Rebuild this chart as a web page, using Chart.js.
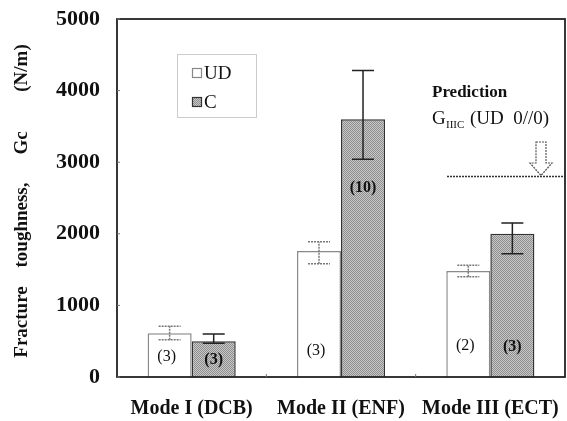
<!DOCTYPE html>
<html>
<head>
<meta charset="utf-8">
<script src="https://cdn.jsdelivr.net/npm/chart.js@4.4.1/dist/chart.umd.min.js"></script>
<style>
  html, body { margin: 0; padding: 0; background: #fff; }
  canvas { display: block; }
</style>
</head>
<body>
<canvas id="gc" width="567" height="421"></canvas>
<script>
// fracture toughness per test mode
const modes = ['Mode I (DCB)', 'Mode II (ENF)', 'Mode III (ECT)'];
const udMean = [610, 1760, 1480];
const udLow = [520, 1580, 1400];
const udHigh = [710, 1890, 1560];
const cMean = [500, 3600, 2000];
const cLow = [470, 3040, 1720];
const cHigh = [600, 4280, 2150];
const udCount = [3, 3, 2];
const cCount = [3, 10, 3];
const yTicks = [0, 1000, 2000, 3000, 4000, 5000];
const predictionGIIIC = 2800;

const serif = '"Liberation Serif", "DejaVu Serif", serif';

// stippled gray fill like a dithered print
function stipple() {
  const c = document.createElement('canvas');
  c.width = 2; c.height = 2;
  const g = c.getContext('2d');
  g.fillStyle = '#c8c8c8'; g.fillRect(0, 0, 2, 2);
  g.fillStyle = '#8e8e8e'; g.fillRect(0, 0, 1, 1); g.fillRect(1, 1, 1, 1);
  return g.createPattern(c, 'repeat');
}

const extras = {
  id: 'extras',
  afterDatasetsDraw(chart) {
    const ctx = chart.ctx;
    const x = chart.scales.x;
    const y = chart.scales.y;
    const area = chart.chartArea;

    // error bars
    const errs = [
      { meta: chart.getDatasetMeta(0), lo: udLow, hi: udHigh, color: '#777', dash: [2, 1] },
      { meta: chart.getDatasetMeta(1), lo: cLow, hi: cHigh, color: '#222', dash: [] }
    ];
    errs.forEach(e => {
      e.meta.data.forEach((bar, i) => {
        const bx = bar.x, y1 = y.getPixelForValue(e.lo[i]), y2 = y.getPixelForValue(e.hi[i]);
        ctx.save();
        ctx.strokeStyle = e.color;
        ctx.lineWidth = 1.5;
        ctx.setLineDash(e.dash);
        ctx.beginPath();
        ctx.moveTo(bx, y1); ctx.lineTo(bx, y2);
        ctx.moveTo(bx - 11, y1); ctx.lineTo(bx + 11, y1);
        ctx.moveTo(bx - 11, y2); ctx.lineTo(bx + 11, y2);
        ctx.stroke();
        ctx.restore();
      });
    });

    // sample counts inside the bars
    const udAt = [280, 360, 430];
    const cAt = [240, 2640, 420];
    ctx.save();
    ctx.fillStyle = '#111';
    ctx.textAlign = 'center';
    ctx.textBaseline = 'middle';
    chart.getDatasetMeta(0).data.forEach((bar, i) => {
      ctx.font = '16px ' + serif;
      ctx.fillText('(' + udCount[i] + ')', bar.x - 3, y.getPixelForValue(udAt[i]));
    });
    chart.getDatasetMeta(1).data.forEach((bar, i) => {
      ctx.font = 'bold 16px ' + serif;
      ctx.fillText('(' + cCount[i] + ')', bar.x, y.getPixelForValue(cAt[i]));
    });
    ctx.restore();

    // predicted mode III value
    const py = y.getPixelForValue(predictionGIIIC);
    ctx.save();
    ctx.strokeStyle = '#333';
    ctx.lineWidth = 1.5;
    ctx.setLineDash([2, 1]);
    ctx.beginPath();
    ctx.moveTo(447, py); ctx.lineTo(area.right, py);
    ctx.stroke();
    // hollow arrow pointing at the line
    ctx.lineWidth = 1.2;
    ctx.strokeStyle = '#555';
    ctx.beginPath();
    ctx.moveTo(536, 142); ctx.lineTo(546, 142); ctx.lineTo(546, 163);
    ctx.lineTo(552, 163); ctx.lineTo(541, py - 1); ctx.lineTo(530, 163);
    ctx.lineTo(536, 163); ctx.closePath();
    ctx.stroke();
    ctx.setLineDash([]);
    ctx.fillStyle = '#111';
    ctx.textBaseline = 'alphabetic';
    ctx.textAlign = 'left';
    ctx.font = 'bold 17px ' + serif;
    ctx.fillText('Prediction', 432, 97);
    ctx.font = '19px ' + serif;
    ctx.fillText('G', 432, 124);
    ctx.font = '11px ' + serif;
    ctx.fillText('IIIC', 446, 128);
    ctx.font = '19px ' + serif;
    ctx.fillText('(UD  0//0)', 470, 124);
    ctx.restore();

    // legend box
    ctx.save();
    ctx.strokeStyle = '#999';
    ctx.lineWidth = 1;
    ctx.setLineDash([1, 1]);
    ctx.strokeRect(177.5, 54.5, 79, 63);
    ctx.setLineDash([]);
    ctx.fillStyle = '#fff';
    ctx.strokeStyle = '#888';
    ctx.lineWidth = 1.2;
    ctx.fillRect(192, 68, 10, 10);
    ctx.strokeRect(192.5, 68.5, 9, 9);
    ctx.fillStyle = stipple();
    ctx.fillRect(192, 97, 10, 10);
    ctx.strokeStyle = '#333';
    ctx.strokeRect(192.5, 97.5, 9, 9);
    ctx.fillStyle = '#111';
    ctx.font = '19px ' + serif;
    ctx.textBaseline = 'middle';
    ctx.fillText('UD', 204, 74);
    ctx.fillText('C', 204, 103);
    ctx.restore();

    // plot frame with small inward ticks
    ctx.save();
    ctx.strokeStyle = '#222';
    ctx.lineWidth = 1.8;
    ctx.strokeRect(area.left, area.top, area.right - area.left, area.bottom - area.top);
    ctx.lineWidth = 1;
    ctx.strokeStyle = '#777';
    ctx.beginPath();
    yTicks.forEach(v => {
      const ty = y.getPixelForValue(v);
      ctx.moveTo(area.left, ty); ctx.lineTo(area.left + 3, ty);
    });
    for (let i = 1; i < modes.length; i++) {
      const tx = (x.getPixelForValue(i - 1) + x.getPixelForValue(i)) / 2;
      ctx.moveTo(tx, area.bottom); ctx.lineTo(tx, area.bottom - 3);
    }
    ctx.stroke();
    ctx.restore();

    // axis title, words spread along the axis
    const titleWords = [['Fracture', 322], ['toughness,', 225], ['Gc', 143], ['(N/m)', 68]];
    ctx.save();
    ctx.fillStyle = '#111';
    ctx.font = 'bold 19px ' + serif;
    ctx.textAlign = 'center';
    ctx.textBaseline = 'middle';
    titleWords.forEach(([w, cy]) => {
      ctx.save();
      ctx.translate(22, cy);
      ctx.rotate(-Math.PI / 2);
      ctx.fillText(w, 0, 0);
      ctx.restore();
    });
    ctx.restore();
  }
};

new Chart(document.getElementById('gc'), {
  type: 'bar',
  data: {
    labels: modes,
    datasets: [
      {
        label: 'UD',
        data: udMean,
        backgroundColor: '#fff',
        borderColor: '#8a8a8a',
        borderWidth: 1.5,
        borderSkipped: 'bottom'
      },
      {
        label: 'C',
        data: cMean,
        backgroundColor: stipple(),
        borderColor: '#333',
        borderWidth: 1.5,
        borderSkipped: 'bottom'
      }
    ]
  },
  options: {
    responsive: false,
    animation: false,
    devicePixelRatio: 1,
    layout: { padding: { left: 0, right: 2, top: 19, bottom: 0 } },
    plugins: { legend: { display: false }, tooltip: { enabled: false } },
    datasets: { bar: { categoryPercentage: 0.59, barPercentage: 1 } },
    scales: {
      x: {
        grid: { display: false, drawTicks: false },
        border: { display: false },
        ticks: {
          color: '#111', font: { family: serif, size: 20, weight: 'bold' },
          padding: 20, maxRotation: 0, autoSkip: false
        },
        afterFit(s) { s.height = 44; s.paddingLeft = 0; s.paddingRight = 0; }
      },
      y: {
        min: 0,
        max: 5000,
        afterBuildTicks(s) { s.ticks = yTicks.map(v => ({ value: v })); },
        grid: { display: false, drawTicks: false },
        border: { display: false },
        ticks: {
          color: '#111', font: { family: serif, size: 22, weight: 'bold' },
          padding: 17, callback: v => String(v)
        },
        afterFit(s) { s.width = 117; s.paddingTop = 0; s.paddingBottom = 0; }
      }
    }
  },
  plugins: [extras]
});
</script>
</body>
</html>
